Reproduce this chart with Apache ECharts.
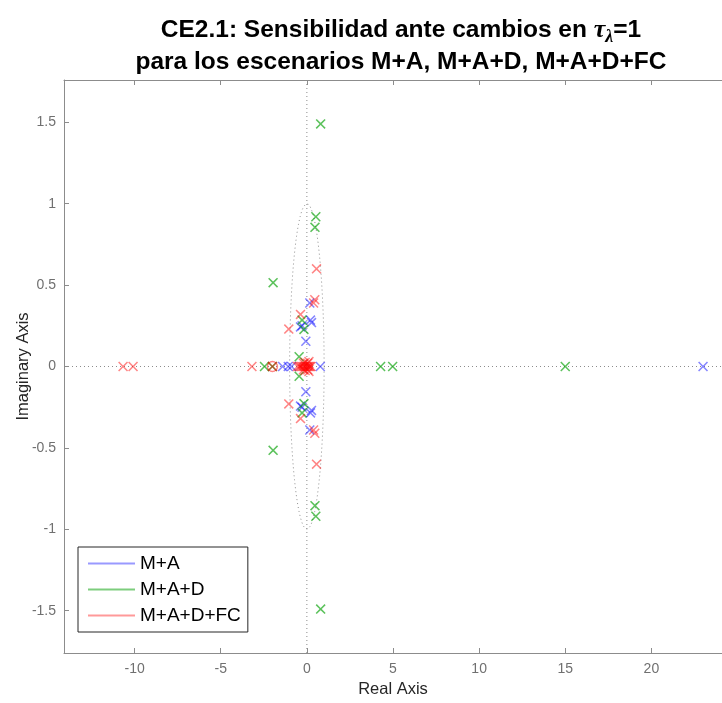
<!DOCTYPE html>
<html>
<head>
<meta charset="utf-8">
<script src="https://cdn.jsdelivr.net/npm/echarts@6/dist/echarts.min.js"></script>
<style>
  html, body { margin: 0; padding: 0; background: #fff; }
  #chart { width: 722px; height: 703px; }
</style>
</head>
<body>
<div id="chart"></div>
<script>
// Pole locations (real, imaginary) for each scenario
const blueRe = [23.0, -1.41, -1.08, -0.89, 0.78, 0.17, 0.17, 0.21, 0.21, 0.27, 0.27, -0.37, -0.37, -0.28, -0.28, -0.06, -0.06];
const blueIm = [0, 0, 0, 0, 0, 0.39, -0.39, 0.285, -0.285, 0.27, -0.27, 0.243, -0.243, 0.25, -0.25, 0.155, -0.155];

const greenRe = [15.0, 4.98, 4.28, -2.46, -2.0, 0.8, 0.8, 0.52, 0.52, 0.47, 0.47, -1.96, -1.96, -0.28, -0.28, -0.17, -0.17, -0.45, -0.45];
const greenIm = [0, 0, 0, 0, 0, 1.49, -1.49, 0.92, -0.92, 0.855, -0.855, 0.515, -0.515, 0.285, -0.285, 0.228, -0.228, 0.06, -0.06];

const redRe = [-10.67, -10.09, -3.19, -2.0, -0.55, -0.45, -0.38, -0.3, -0.22, -0.15, -0.08, 0.0, 0.06, 0.12, 0.18, 0.24, -0.2, -0.1, 0.05, -0.2, -0.1, 0.05,
               0.56, 0.56, 0.46, 0.46, 0.39, 0.39, -0.37, -0.37, -1.05, -1.05, 0.12, 0.12];
const redIm = [0, 0, 0, 0, 0, 0, 0, 0, 0, 0, 0, 0, 0, 0, 0, 0, 0.02, 0.025, 0.02, -0.02, -0.025, -0.02,
               0.6, -0.6, 0.41, -0.41, 0.39, -0.39, 0.32, -0.32, 0.23, -0.23, 0.03, -0.03];

// Zero locations
const redZeroRe = [-2.0];
const redZeroIm = [0];

const xTicks = [-10, -5, 0, 5, 10, 15, 20];
const yTicks = [-1.5, -1, -0.5, 0, 0.5, 1, 1.5];

const names = ['M+A', 'M+A+D', 'M+A+D+FC'];
const markColors = ['rgba(0,0,255,0.6)', 'rgba(0,160,0,0.8)', 'rgba(255,0,0,0.6)'];
const legendColors = ['#7f7fff', '#5cc05c', '#ff7f7f'];

const X_MIN = -14.1, X_MAX = 24.1, Y_MIN = -1.76, Y_MAX = 1.76;

const crossPath = 'path://M0,1.1L1.1,0L5,3.9L8.9,0L10,1.1L6.1,5L10,8.9L8.9,10L5,6.1L1.1,10L0,8.9L3.9,5Z';

function pairs(re, im) {
  return re.map((r, i) => [r, im[i]]);
}

// Unit circle reference (drawn dotted)
const circle = [];
for (let k = 0; k <= 360; k++) {
  const a = k * Math.PI / 180;
  circle.push([Math.cos(a), Math.sin(a)]);
}

const chart = echarts.init(document.getElementById('chart'), null, { renderer: 'canvas' });

const dotted = { color: '#8c8c8c', type: [1, 3], width: 1 };
const frame = { color: '#8c8c8c', width: 1 };

const guide = (data) => ({
  type: 'line',
  data: data,
  showSymbol: false,
  lineStyle: dotted,
  silent: true,
  z: 1
});

const poleSeries = (name, re, im, color) => ({
  name: name,
  type: 'scatter',
  symbol: crossPath,
  symbolSize: 10,
  itemStyle: { color: color },
  data: pairs(re, im),
  z: 5,
  silent: true
});

chart.setOption({
  animation: false,
  title: {
    text: '{a|CE2.1: Sensibilidad ante cambios en }{t|τ}{s|λ}{a|=1}\n{a|para los escenarios M+A, M+A+D, M+A+D+FC}',
    left: 396,
    top: 9,
    textAlign: 'center',
    textStyle: {
      rich: {
        a: { fontFamily: 'Liberation Sans', fontWeight: 'bold', fontSize: 24.5, color: '#000', lineHeight: 32 },
        t: { fontFamily: 'Liberation Serif', fontStyle: 'italic', fontSize: 26, color: '#000', lineHeight: 32 },
        s: { fontFamily: 'Liberation Serif', fontStyle: 'italic', fontSize: 18, color: '#000', padding: [14, 0, 0, 0], lineHeight: 32 }
      }
    }
  },
  legend: {
    orient: 'vertical',
    left: 78,
    top: 547,
    padding: [7, 7, 7, 10],
    itemGap: 7,
    itemWidth: 47,
    itemHeight: 2,
    borderColor: '#262626',
    borderWidth: 1,
    borderRadius: 0,
    backgroundColor: '#fff',
    textStyle: { fontFamily: 'Liberation Sans', fontSize: 19, color: '#000', padding: [0, 0, 0, 0] },
    data: names.map((n, i) => ({ name: n, icon: 'rect', itemStyle: { color: legendColors[i] } }))
  },
  grid: { left: 64, right: 0, top: 80, bottom: 48, containLabel: false },
  xAxis: [{
    type: 'value',
    min: X_MIN,
    max: X_MAX,
    position: 'bottom',
    name: 'Real Axis',
    nameLocation: 'middle',
    nameGap: 28,
    nameMoveOverlap: false,
    nameTextStyle: { fontFamily: 'Liberation Sans', fontSize: 16.5, color: '#262626' },
    axisLine: { show: true, onZero: false, lineStyle: frame },
    axisTick: { show: true, inside: true, length: 5, lineStyle: frame, customValues: xTicks },
    axisLabel: { customValues: xTicks, fontFamily: 'Liberation Sans', fontSize: 14, color: '#707070', margin: 9 },
    splitLine: { show: false }
  }, {
    type: 'value',
    min: X_MIN,
    max: X_MAX,
    position: 'top',
    axisLine: { show: true, onZero: false, lineStyle: frame },
    axisTick: { show: true, inside: true, length: 5, lineStyle: frame, customValues: xTicks },
    axisLabel: { show: false },
    splitLine: { show: false }
  }],
  yAxis: {
    type: 'value',
    min: Y_MIN,
    max: Y_MAX,
    name: 'Imaginary Axis',
    nameLocation: 'middle',
    nameGap: 32,
    nameMoveOverlap: false,
    nameTextStyle: { fontFamily: 'Liberation Sans', fontSize: 16.5, color: '#262626' },
    axisLine: { show: true, onZero: false, lineStyle: frame },
    axisTick: { show: true, inside: true, length: 5, lineStyle: frame, customValues: yTicks },
    axisLabel: { customValues: yTicks, fontFamily: 'Liberation Sans', fontSize: 14, color: '#707070', margin: 8 },
    splitLine: { show: false }
  },
  series: [
    guide(circle),
    guide([[X_MIN, 0], [X_MAX, 0]]),
    guide([[0, Y_MIN], [0, Y_MAX]]),
    poleSeries(names[0], blueRe, blueIm, markColors[0]),
    poleSeries(names[1], greenRe, greenIm, markColors[1]),
    poleSeries(names[2], redRe, redIm, markColors[2]),
    {
      name: names[2],
      type: 'scatter',
      symbol: 'circle',
      symbolSize: 10,
      itemStyle: { color: 'rgba(0,0,0,0)', borderColor: markColors[2], borderWidth: 1.4 },
      data: pairs(redZeroRe, redZeroIm),
      z: 5,
      silent: true
    }
  ]
});
</script>
</body>
</html>
